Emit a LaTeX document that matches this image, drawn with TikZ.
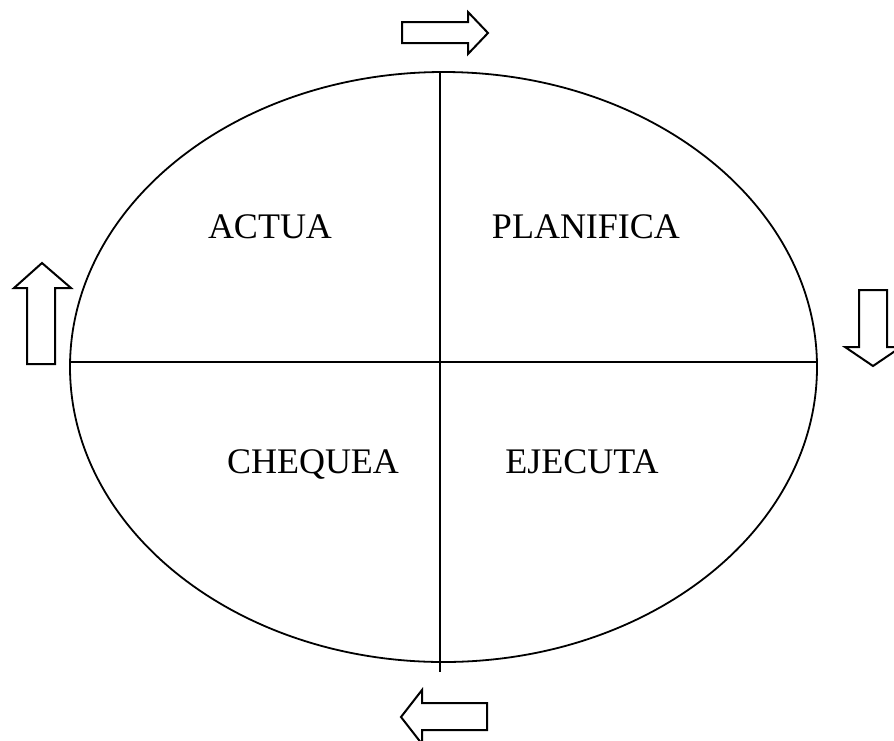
\documentclass[tikz,border=0pt]{standalone}
\usepackage{fontspec}
\setmainfont{Liberation Serif}
\usetikzlibrary{positioning}

\tikzset{
  phase/.style={font=\fontsize{36}{40}\selectfont, inner sep=0pt, anchor=base},
  cyclearrow/.style={line width=2pt, line join=miter},
}

\begin{document}
\begin{tikzpicture}[x=1pt, y=-1pt, line width=1.8pt]
  \useasboundingbox (0,0) rectangle (894,740);
  \clip (0,0) rectangle (894,740);

  % Cycle ellipse and its two axes
  \draw (443.5,367) ellipse [x radius=373.5pt, y radius=295pt];
  \coordinate (west) at (70,362);
  \coordinate (east) at (817,362);
  \coordinate (north) at (440,72);
  \coordinate (south) at (440,672);
  \draw (west) -- (east);
  \draw (north) -- (south);

  % Phases
  \node[phase] (actua) at (270,238) {ACTUA};
  \node[phase] (planifica) at (586,238) {PLANIFICA};
  \node[phase] (chequea) at (313,473) {CHEQUEA};
  \node[phase] (ejecuta) at (582,473) {EJECUTA};

  % Block arrows round the cycle
  \draw[cyclearrow] (402,22) -- (468,22) -- (468,12) -- (488,33) -- (468,54) -- (468,43) -- (402,43) -- cycle;
  \draw[cyclearrow] (859,290) -- (887,290) -- (887,347) -- (901,347) -- (873,366) -- (845,347) -- (859,347) -- cycle;
  \draw[cyclearrow] (487,703) -- (422,703) -- (422,690) -- (401,717) -- (422,744) -- (422,730) -- (487,730) -- cycle;
  \draw[cyclearrow] (27,364) -- (27,288) -- (14,288) -- (42,263) -- (71,288) -- (55,288) -- (55,364) -- cycle;
\end{tikzpicture}
\end{document}
